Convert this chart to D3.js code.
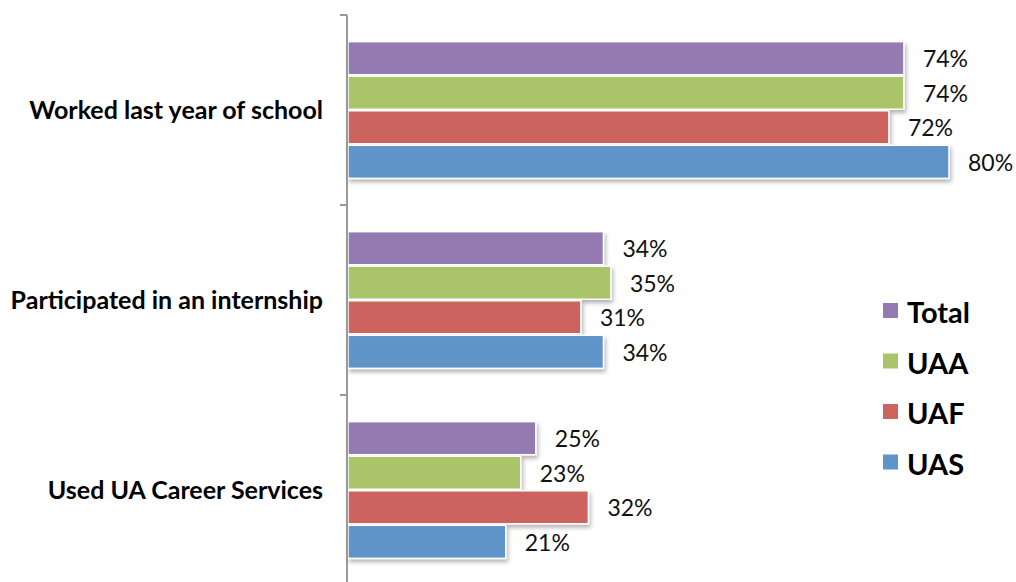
<!DOCTYPE html>
<html>
<head>
<meta charset="utf-8">
<script src="https://cdn.jsdelivr.net/npm/d3@7"></script>
<style>
  html, body { margin: 0; padding: 0; background: #fff; }
  svg { display: block; font-family: Lato, "Open Sans", sans-serif; }
</style>
</head>
<body>
<svg id="chart" width="1016" height="582"></svg>
<script>
// Survey outcomes by campus (percent of respondents)
const categories = ["Worked last year of school", "Participated in an internship", "Used UA Career Services"];
const seriesNames = ["Total", "UAA", "UAF", "UAS"];
const totalValues = [74, 34, 25];
const uaaValues   = [74, 35, 23];
const uafValues   = [72, 31, 32];
const uasValues   = [80, 34, 21];
const seriesColors = ["#937ab0", "#aac46b", "#cd645e", "#5e94c9"];

const seriesValues = [totalValues, uaaValues, uafValues, uasValues];
const rows = categories.map((c, i) => ({
  category: c,
  values: seriesNames.map((s, j) => ({ series: s, value: seriesValues[j][i], color: seriesColors[j] }))
}));

const svg = d3.select("#chart");
const axisX = 348;

const x = d3.scaleLinear().domain([0, 80]).range([axisX, axisX + 601]);
const y0 = d3.scaleBand().domain(categories).range([15, 585]).paddingInner(0).paddingOuter(0);
const y1 = d3.scaleBand().domain(seriesNames).range([0, y0.bandwidth()]).paddingInner(0).paddingOuter(0.75);

// soft drop shadow under the bars
const defs = svg.append("defs");
const f = defs.append("filter").attr("id", "shadow").attr("x", "-5%").attr("y", "-30%").attr("width", "115%").attr("height", "180%");
f.append("feDropShadow").attr("dx", 1.5).attr("dy", 3).attr("stdDeviation", 2)
  .attr("flood-color", "#000").attr("flood-opacity", 0.3);

// bars
const groups = svg.append("g").selectAll("g.cat")
  .data(rows).join("g").attr("class", "cat")
  .attr("transform", d => `translate(0,${y0(d.category)})`);

groups.selectAll("rect")
  .data(d => d.values).join("rect")
  .attr("x", x(0))
  .attr("y", d => y1(d.series) + 0.75)
  .attr("width", d => x(d.value) - x(0))
  .attr("height", y1.bandwidth() - 1.5)
  .attr("fill", d => d.color)
  .attr("stroke", "#fff")
  .attr("stroke-width", 1.5)
  .attr("filter", "url(#shadow)");

// value labels
groups.selectAll("text.val")
  .data(d => d.values).join("text").attr("class", "val")
  .attr("x", d => x(d.value) + 19)
  .attr("y", d => y1(d.series) + y1.bandwidth() / 2 + 3)
  .attr("dominant-baseline", "middle")
  .attr("font-size", 23)
  .attr("fill", "#111")
  .text(d => d.value + "%");

// category axis: vertical line with ticks between categories
const axis = svg.append("g");
const bounds = categories.map(c => y0(c)).concat([y0.range()[1]]);
axis.append("line")
  .attr("x1", axisX - 1).attr("x2", axisX - 1)
  .attr("y1", bounds[0]).attr("y2", bounds[bounds.length - 1])
  .attr("stroke", "#999").attr("stroke-width", 2);
axis.selectAll("line.tick")
  .data(bounds).join("line").attr("class", "tick")
  .attr("x1", axisX - 8).attr("x2", axisX - 1)
  .attr("y1", d => d).attr("y2", d => d)
  .attr("stroke", "#999").attr("stroke-width", 2);

// category labels
svg.append("g").selectAll("text")
  .data(categories).join("text")
  .attr("x", axisX - 25)
  .attr("y", d => y0(d) + y0.bandwidth() / 2 + 3)
  .attr("text-anchor", "end")
  .attr("dominant-baseline", "middle")
  .attr("font-size", 25)
  .attr("font-weight", "bold")
  .attr("fill", "#000")
  .text(d => d);

// legend
const legend = svg.append("g").attr("transform", "translate(883,303)");
const lg = legend.selectAll("g").data(seriesNames).join("g")
  .attr("transform", (d, i) => `translate(0,${i * 50.5})`);
lg.append("rect").attr("width", 15).attr("height", 15)
  .attr("fill", (d, i) => seriesColors[i]);
lg.append("text")
  .attr("x", 24).attr("y", 20)
  .attr("font-size", 29).attr("font-weight", "bold").attr("fill", "#000")
  .text(d => d);
</script>
</body>
</html>
